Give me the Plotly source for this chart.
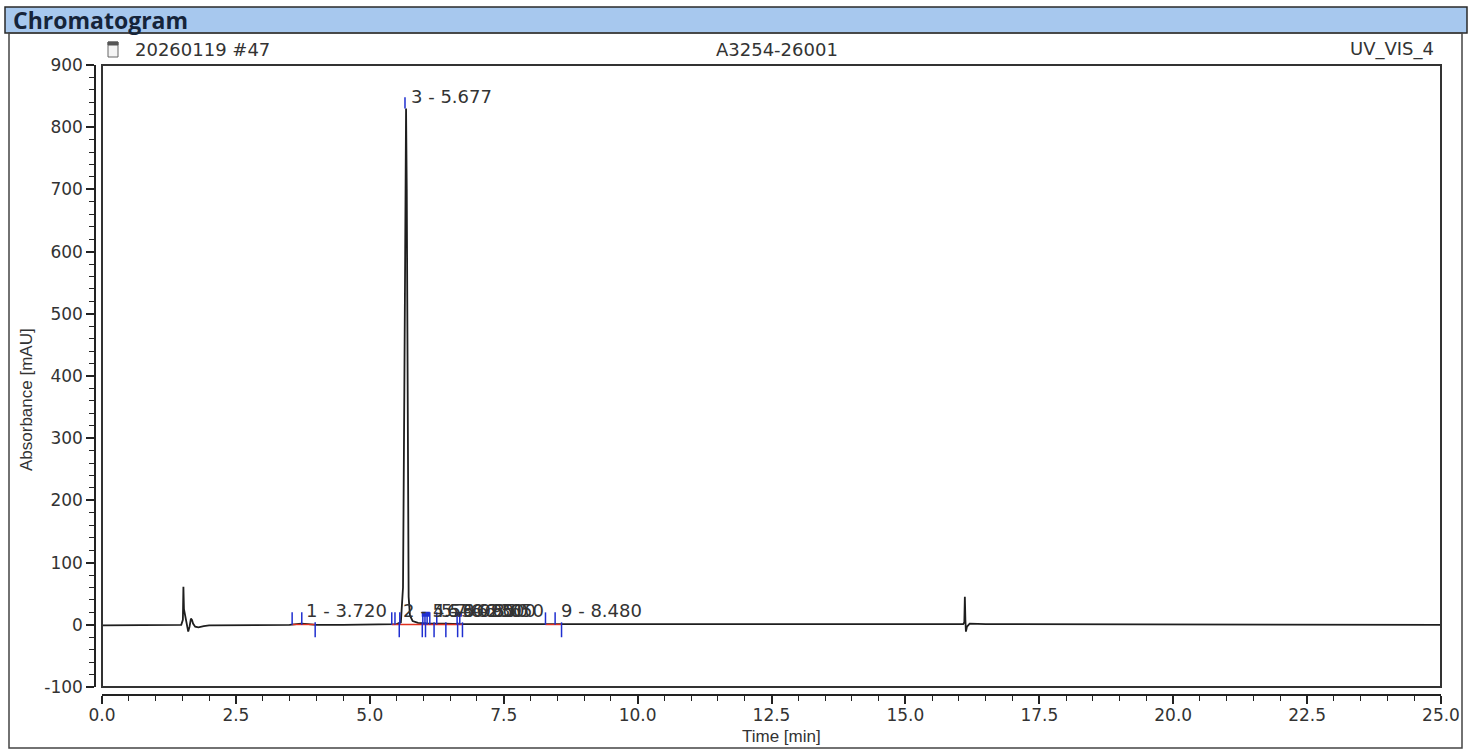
import plotly.graph_objects as go

W, H = 1474, 749

# ---------------- data ----------------
time_min = [0.00, 1.40, 1.48, 1.51, 1.52, 1.53, 1.545, 1.56, 1.585, 1.61, 1.635, 1.66, 1.68, 1.70,
            1.74, 1.80, 1.90, 2.00, 3.50, 3.60, 3.72, 3.85, 4.00, 4.50, 5.40, 5.50, 5.58, 5.62,
            5.645, 5.66, 5.677, 5.69, 5.70, 5.71, 5.725, 5.75, 5.80, 5.90, 6.10, 6.40, 6.70, 7.50,
            8.48, 9.00, 10.0, 12.5, 15.3, 16.00, 16.08, 16.10, 16.11, 16.12, 16.13, 16.15, 16.20,
            16.50, 16.90, 17.00, 25.00]
absorbance = [-1, -1, 0, 8, 61, 25, 18, 10, -2, -11, -3, 10, 8, 2,
              -3, -4, -2, -1, 0, 1, 2, 1, 0, 0, 0, 1, 4, 60,
              380, 720, 830, 700, 420, 160, 45, 15, 6, 3, 2, 2, 1, 1,
              1, 0, 0, 0, 0, 0, 1, 4, 45, 8, -11, -3, 2,
              1, 1, 0, 0]

peak_ids = [1, 2, 3, 4, 5, 6, 7, 8, 9]
peak_times = [3.720, 5.530, 5.677, 6.090, 6.230, 6.350, 6.500, 6.650, 8.480]
peak_heights = [3, 3, 830, 3, 3, 3, 3, 3, 3]

delim_up_times = [3.55, 3.73, 5.41, 5.47, 5.56, 5.99, 6.03, 6.07, 6.12, 6.25, 6.63, 6.68, 8.28, 8.46]
delim_down_times = [3.98, 5.55, 5.98, 6.04, 6.20, 6.42, 6.64, 6.73, 8.58]
delim_bar_start = [5.97, 6.59]
delim_bar_end = [6.12, 6.72]
baseline_start = [3.55, 5.41, 8.28]
baseline_end = [3.98, 6.73, 8.58]

x_ticks = [0.0, 2.5, 5.0, 7.5, 10.0, 12.5, 15.0, 17.5, 20.0, 22.5, 25.0]
y_ticks = [-100, 0, 100, 200, 300, 400, 500, 600, 700, 800, 900]

# ---------------- helpers ----------------
def PX(px):
    return px / W

def PY(py):
    return 1 - py / H

TICK_UP, TICK_DN_TOP, TICK_DN = 20, 4, -20
BLUE = "#1f2fd0"
RED = "#e0301e"
TXT = "#333333"
FONT = "DejaVu Sans"
TFONT = "Liberation Sans"

fig = go.Figure()

fig.add_trace(go.Scatter(x=time_min, y=absorbance, mode="lines",
                         line=dict(color="#1e1e1e", width=1.8), hoverinfo="skip"))

# red baselines
bx, by = [], []
for s, e in zip(baseline_start, baseline_end):
    bx += [s, e, None]
    by += [0.5, 0.5, None]
fig.add_trace(go.Scatter(x=bx, y=by, mode="lines", line=dict(color=RED, width=1.4), hoverinfo="skip"))

# blue delimiters
dx, dy = [], []
for t in delim_up_times:
    dx += [t, t, None]
    dy += [0, TICK_UP, None]
for t in delim_down_times:
    dx += [t, t, None]
    dy += [TICK_DN_TOP, TICK_DN, None]
for t, h in zip(peak_times, peak_heights):
    if h > 100:
        dx += [t - 0.02, t - 0.02, None]
        dy += [h, h + 18, None]
fig.add_trace(go.Scatter(x=dx, y=dy, mode="lines", line=dict(color=BLUE, width=1.5), hoverinfo="skip"))

qx, qy = [], []
for s, e in zip(delim_bar_start, delim_bar_end):
    qx += [s, e, None]
    qy += [17, 17, None]
fig.add_trace(go.Scatter(x=qx, y=qy, mode="lines", line=dict(color=BLUE, width=5), hoverinfo="skip"))

# peak labels
for pid, t, h in zip(peak_ids, peak_times, peak_heights):
    fig.add_annotation(x=t, y=h, xref="x", yref="y", text=f"{pid} - {t:.3f}",
                       showarrow=False, xanchor="left", yanchor="bottom", xshift=3, yshift=0,
                       font=dict(family=FONT, size=18, color=TXT))

# ---------------- layout ----------------
x0, x1 = PX(102), PX(1441)
y0, y1 = PY(687), PY(65)

shapes = [
    dict(type="rect", xref="paper", yref="paper", x0=PX(5), x1=PX(1467), y0=PY(33), y1=PY(7),
         fillcolor="#a7c8ee", line=dict(color="#2a2a2a", width=1.5), layer="below"),
    dict(type="rect", xref="paper", yref="paper", x0=PX(9), x1=PX(1462), y0=PY(748), y1=PY(33),
         line=dict(color="#444444", width=1.5), layer="below"),
    dict(type="rect", xref="paper", yref="paper", x0=x0, x1=x1, y0=y0, y1=y1,
         line=dict(color="#333333", width=2)),
    dict(type="rect", xref="paper", yref="paper", x0=PX(108), x1=PX(118), y0=PY(57), y1=PY(42),
         fillcolor="#f4f4f4", line=dict(color="#666666", width=1)),
    dict(type="rect", xref="paper", yref="paper", x0=PX(108), x1=PX(118), y0=PY(45), y1=PY(42),
         fillcolor="#555555", line=dict(color="#555555", width=1)),
]

annotations_layout = [
    dict(text="<b>Chromatogram</b>", x=PX(11), y=PY(20), xref="paper", yref="paper",
         xanchor="left", yanchor="middle", showarrow=False,
         font=dict(family="Open Sans", size=23, color="#15243a")),
    dict(text="20260119 #47", x=PX(133), y=PY(49), xref="paper", yref="paper",
         xanchor="left", yanchor="middle", showarrow=False, font=dict(family=FONT, size=18, color=TXT)),
    dict(text="A3254-26001", x=PX(777), y=PY(49), xref="paper", yref="paper",
         xanchor="center", yanchor="middle", showarrow=False, font=dict(family=FONT, size=18, color=TXT)),
    dict(text="UV_VIS_4", x=PX(1436), y=PY(49), xref="paper", yref="paper",
         xanchor="right", yanchor="middle", showarrow=False, font=dict(family=FONT, size=18, color=TXT)),
    dict(text="Time [min]", x=PX(781), y=PY(736), xref="paper", yref="paper",
         xanchor="center", yanchor="middle", showarrow=False, font=dict(family=TFONT, size=17, color=TXT)),
    dict(text="Absorbance [mAU]", x=PX(26), y=PY(400), xref="paper", yref="paper", textangle=-90,
         xanchor="center", yanchor="middle", showarrow=False, font=dict(family=TFONT, size=17, color=TXT)),
]
for a in annotations_layout:
    fig.add_annotation(**a)

fig.update_layout(
    width=W, height=H, margin=dict(l=0, r=0, t=0, b=0),
    paper_bgcolor="white", plot_bgcolor="white", showlegend=False,
    shapes=shapes,
    xaxis=dict(domain=[x0, x1], range=[0, 25], anchor="free", position=PY(695),
               showline=True, linecolor="#222222", linewidth=1.5,
               ticks="outside", ticklen=8, tickwidth=1.5, tickcolor="#222222",
               tickvals=x_ticks, ticktext=[f"{v:.1f}" for v in x_ticks],
               minor=dict(dtick=0.5, ticks="outside", ticklen=5, tickwidth=1.2, tickcolor="#222222"),
               showgrid=False, zeroline=False, automargin=False, ticklabelstandoff=-3,
               tickfont=dict(family=FONT, size=17, color=TXT)),
    yaxis=dict(domain=[y0, y1], range=[-100, 900], anchor="free", position=PX(95),
               showline=True, linecolor="#222222", linewidth=1.5,
               ticks="outside", ticklen=8, tickwidth=1.5, tickcolor="#222222",
               tickvals=y_ticks, ticktext=[str(v) for v in y_ticks],
               minor=dict(dtick=20, ticks="outside", ticklen=5, tickwidth=1.2, tickcolor="#222222"),
               showgrid=False, zeroline=False, automargin=False,
               tickfont=dict(family=FONT, size=17, color=TXT)),
)

fig.write_html("out.html", config={"displayModeBar": False},
               post_script="document.body.style.margin='0';document.body.style.overflow='hidden';")
